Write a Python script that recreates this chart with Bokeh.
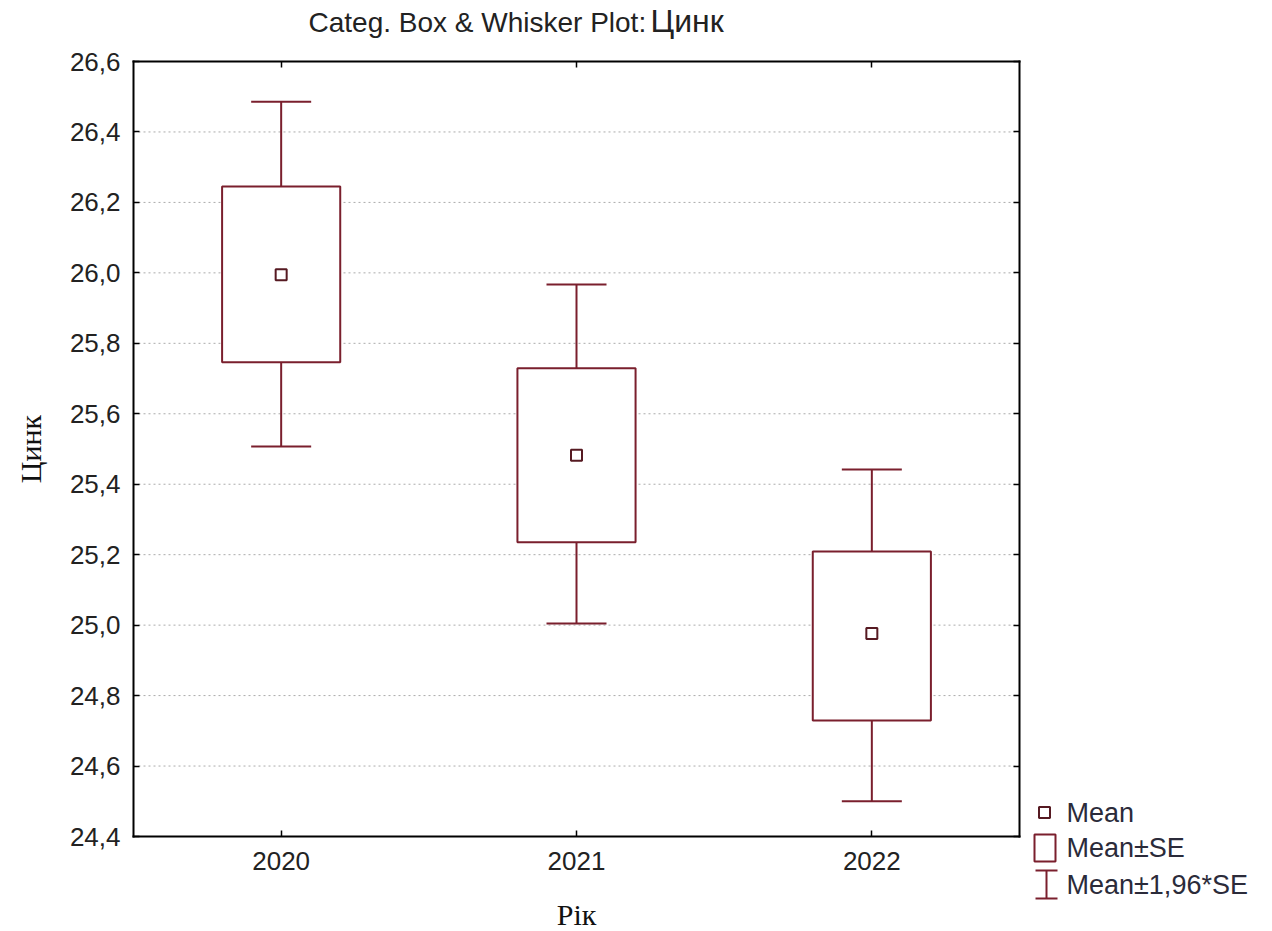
import math
from bokeh.plotting import figure
from bokeh.models import (Range1d, FixedTicker, LinearAxis, CustomJSTickFormatter,
                          ColumnDataSource, Whisker, TeeHead, Label)
from bokeh.embed import file_html
from bokeh.resources import INLINE

# ---- data ----
categories = ["2020", "2021", "2022"]
means = [25.995, 25.482, 24.976]
se_low = [25.746, 25.235, 24.729]
se_high = [26.245, 25.729, 25.209]
ci_low = [25.507, 25.005, 24.500]
ci_high = [26.486, 25.967, 25.442]
y_ticks = [24.4, 24.6, 24.8, 25.0, 25.2, 25.4, 25.6, 25.8, 26.0, 26.2, 26.4, 26.6]
legend_labels = ["Mean", "Mean±SE", "Mean±1,96*SE"]

title_main = "Categ. Box & Whisker Plot: "
title_var = "Цинк"
x_label = "Рік"
y_label = "Цинк"

BOX = "#7a1f2d"
MEAN = "#561a22"
SANS = "Liberation Sans"
SERIF = "Liberation Serif"
TXT = "#222222"

# ---- geometry (canvas pixels): the data box occupies FL..FR x FT..FB ----
W, H = 1272, 931
FL, FR, FT, FB = 133, 1019, 61, 836
X0, X1 = 0.5, 3.5          # category axis extent
Y0, Y1 = 24.4, 26.6        # value axis extent


def px_x(px):
    return X0 + (px - FL) * (X1 - X0) / (FR - FL)


def px_y(py):
    return Y1 - (py - FT) * (Y1 - Y0) / (FB - FT)


xpos = list(range(1, len(categories) + 1))
src = ColumnDataSource(dict(x=xpos, mean=means, se_low=se_low, se_high=se_high,
                            ci_low=ci_low, ci_high=ci_high))

# the drawing area spans the whole canvas so that title and legend are not clipped;
# the axes are pinned to the data box with fixed_location
p = figure(width=W, height=H, x_range=Range1d(px_x(0), px_x(W)), y_range=Range1d(px_y(H), px_y(0)),
           output_backend="svg", toolbar_location=None, tools="",
           x_axis_location=None, y_axis_location=None, min_border=0)
p.outline_line_color = None
p.background_fill_color = "white"
p.border_fill_color = "white"
p.grid.visible = False

cat_fmt = CustomJSTickFormatter(args=dict(labels=categories),
                                code="const i = Math.round(tick) - 1; return labels[i] || '';")
num_fmt = CustomJSTickFormatter(code="return tick.toFixed(1).replace('.', ',');")
empty_fmt = CustomJSTickFormatter(code="return '';")


def make_axis(ticks, fmt, loc, bounds):
    ax = LinearAxis(ticker=FixedTicker(ticks=ticks, minor_ticks=[]), formatter=fmt,
                    fixed_location=loc, bounds=bounds)
    ax.axis_line_color = "black"
    ax.axis_line_width = 2
    ax.axis_line_cap = "square"
    ax.major_tick_line_color = "black"
    ax.major_tick_line_width = 1.5
    ax.major_tick_in = 6
    ax.major_tick_out = 0
    ax.minor_tick_line_color = None
    ax.major_label_text_font = SANS
    ax.major_label_text_font_size = "26px"
    ax.major_label_text_color = TXT
    return ax


bottom = make_axis(xpos, cat_fmt, Y0, (X0, X1))
bottom.major_label_standoff = 15
p.add_layout(bottom, "below")

left = make_axis(y_ticks, num_fmt, X0, (Y0, Y1))
left.major_label_standoff = 13
p.add_layout(left, "left")

top = make_axis(xpos, empty_fmt, Y1, (X0, X1))
top.major_label_text_font_size = "0px"
p.add_layout(top, "above")

right = make_axis(y_ticks, empty_fmt, X1, (Y0, Y1))
right.major_label_text_font_size = "0px"
p.add_layout(right, "right")

# horizontal dotted grid lines at the inner value ticks
inner = y_ticks[1:-1]
p.segment(x0=[X0] * len(inner), x1=[X1] * len(inner), y0=inner, y1=inner,
          line_color="#ababab", line_dash="2 3", line_width=1, level="underlay")

# whiskers (Mean ± 1.96*SE), beneath the boxes
w_up = Whisker(base="x", lower="se_high", upper="ci_high", source=src, dimension="height",
               line_color=BOX, line_width=2, level="underlay",
               upper_head=TeeHead(size=60, line_color=BOX, line_width=2), lower_head=None)
w_dn = Whisker(base="x", lower="ci_low", upper="se_low", source=src, dimension="height",
               line_color=BOX, line_width=2, level="underlay",
               lower_head=TeeHead(size=60, line_color=BOX, line_width=2), upper_head=None)
p.add_layout(w_up)
p.add_layout(w_dn)

# boxes (Mean ± SE)
p.vbar(x="x", width=0.4, bottom="se_low", top="se_high", source=src,
       fill_color="white", line_color=BOX, line_width=2)
# means
p.scatter(x="x", y="mean", source=src, marker="square", size=11,
          fill_color=None, line_color=MEAN, line_width=2)

# ---- title (two sizes, as in the reference) ----
p.add_layout(Label(x=px_x(308), y=px_y(22), text=title_main, text_font=SANS,
                   text_font_size="28px", text_color=TXT,
                   text_align="left", text_baseline="middle"))
p.add_layout(Label(x=px_x(650), y=px_y(20.5), text=title_var, text_font=SANS,
                   text_font_size="32px", text_color=TXT,
                   text_align="left", text_baseline="middle"))

# ---- axis titles ----
p.add_layout(Label(x=2.0, y=px_y(914), text=x_label, text_font=SERIF,
                   text_font_size="30px", text_color="#111111",
                   text_align="center", text_baseline="middle"))
p.add_layout(Label(x=px_x(30), y=(Y0 + Y1) / 2, text=y_label, text_font=SERIF,
                   text_font_size="30px", text_color="#111111", angle=math.pi / 2,
                   text_align="center", text_baseline="middle"))

# ---- legend ----
p.scatter(x=[px_x(1044)], y=[px_y(812)], marker="square", size=11, fill_color=None,
          line_color=MEAN, line_width=2)
p.quad(left=[px_x(1034)], right=[px_x(1055)], top=[px_y(834)], bottom=[px_y(861)],
       fill_color=None, line_color=BOX, line_width=2)
p.segment(x0=[px_x(1046), px_x(1035), px_x(1035)], y0=[px_y(870), px_y(870), px_y(898)],
          x1=[px_x(1046), px_x(1057), px_x(1057)], y1=[px_y(898), px_y(870), px_y(898)],
          line_color=BOX, line_width=2)
for lab, py in zip(legend_labels, [812, 847, 884]):
    p.add_layout(Label(x=px_x(1066), y=px_y(py), text=lab, text_font=SANS,
                       text_font_size="27px", text_color="#2b2b3a",
                       text_align="left", text_baseline="middle"))

open("out.html", "w").write(file_html(p, INLINE))
